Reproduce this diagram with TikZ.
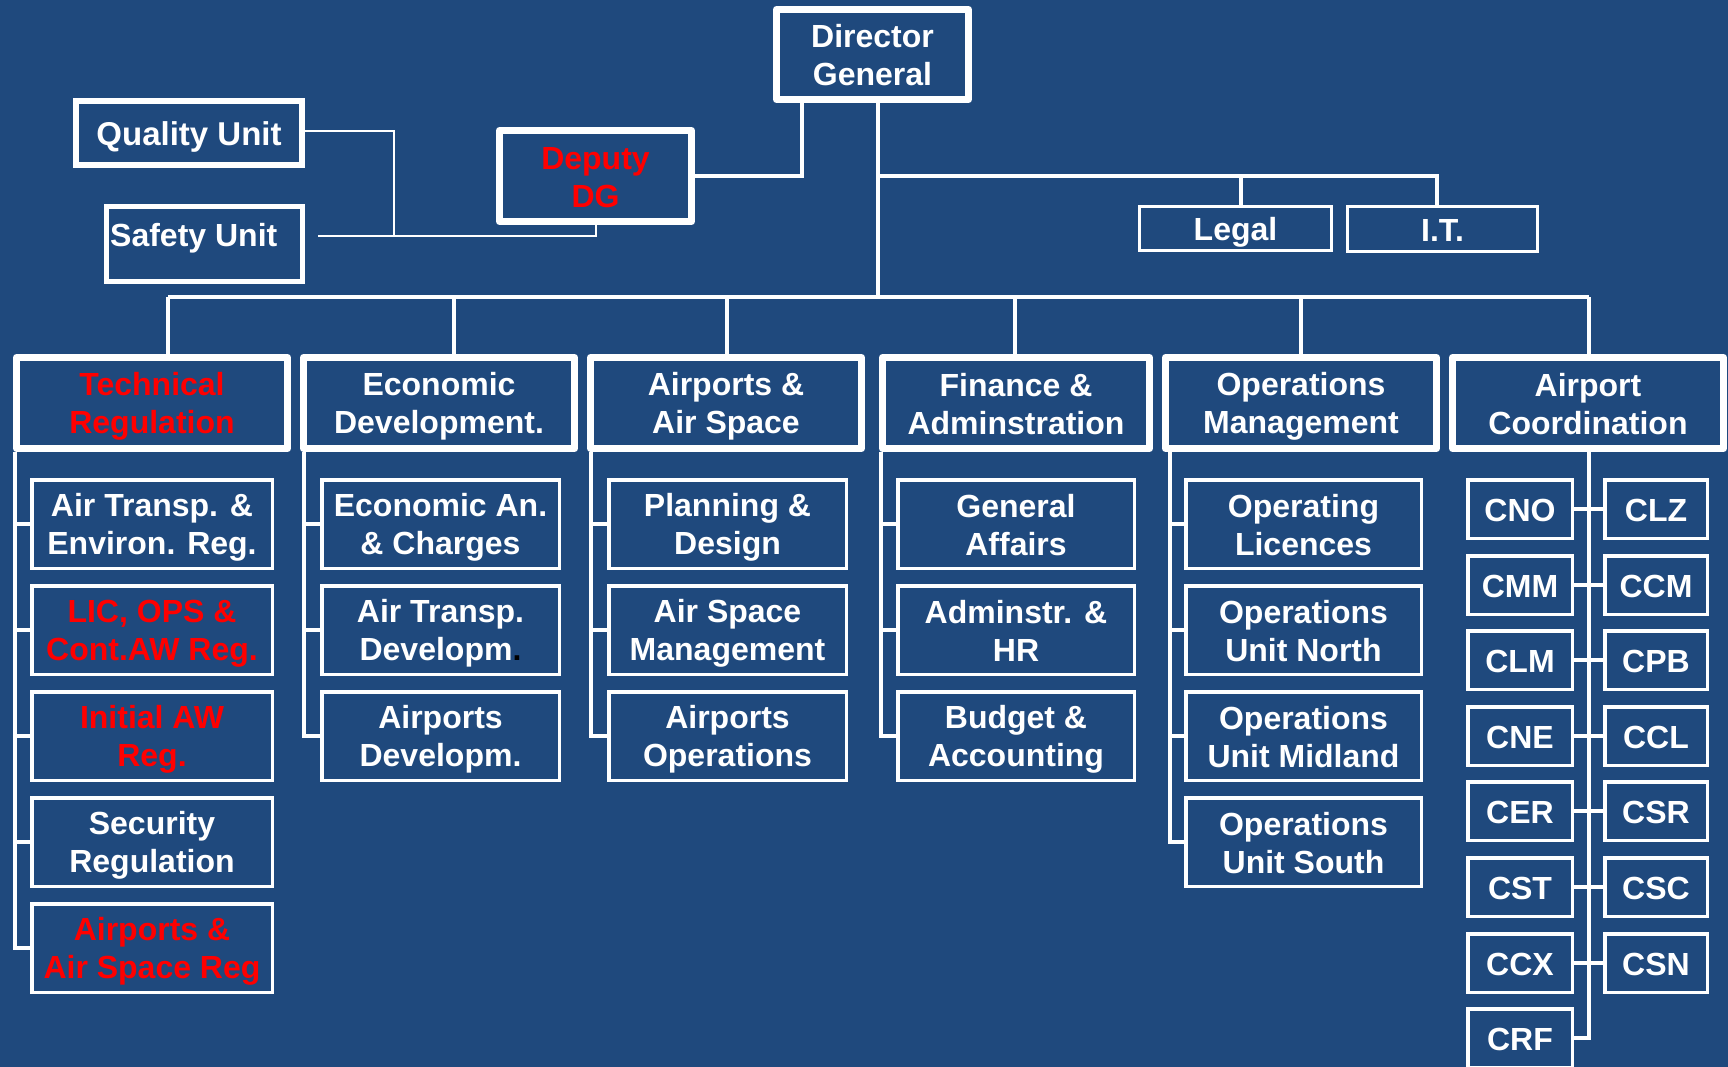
\documentclass[tikz,border=0pt]{standalone}
\usepackage{fontspec}
\setmainfont{Liberation Sans}
\definecolor{bg}{HTML}{1F497D}
\definecolor{rd}{HTML}{FF0000}
\newcommand{\ms}{\rule[-0.18em]{0pt}{1.12em}}
\newcommand{\tw}[2]{\ms #1\\\ms #2}
\tikzset{
  bx/.style={draw=white, inner sep=0pt, align=center, text=white,
    font=\fontsize{32}{38}\selectfont\bfseries},
  thk/.style={bx, line width=7pt, line join=round},
  thn/.style={bx, line width=3.5pt},
  sz/.style 2 args={minimum width=#1pt, minimum height=#2pt},
  conn/.style={draw=white, line width=3.5pt},
  fine/.style={draw=white, line width=2pt},
  lbl/.style={inner sep=0pt, text=white, font=\fontsize{32}{38}\selectfont\bfseries}
}
\begin{document}
\begin{tikzpicture}[x=1pt, y=-1pt]
\fill[bg] (0,0) rectangle (1728,1067);
\useasboundingbox (0,0) rectangle (1728,1067);

% top level
\node[thk, sz={192}{90}] (dg) at (872.5,54.5) {\tw{Director}{General}};
\node[thk, sz={192}{91}, text=rd] (dep) at (595.5,176) {\tw{Deputy}{DG}};
\node[bx, line width=6pt, sz={226}{64}, font=\fontsize{33}{38}\selectfont\bfseries] (qu) at (189,133) {\ms Quality Unit};
\node[bx, line width=5pt, sz={196}{75}] (sa) at (204.5,244) {};
\node[lbl, anchor=base west] (satxt) at (110,247) {Safety Unit};
\node[bx, line width=3pt, sz={192}{44}] (lg) at (1235.5,228.5) {\ms Legal};
\node[bx, line width=3pt, sz={190}{45}] (it) at (1442.5,229) {\ms I.T.};

% departments
\node[thk, sz={271}{91}, text=rd] (tr) at (152,403) {\tw{Technical}{Regulation}};
\node[thk, sz={271}{91}] (ed) at (439,403) {\tw{Economic}{Development.}};
\node[thk, sz={271}{91}] (as) at (726,403) {\tw{Airports \&}{Air Space}};
\node[thk, sz={267}{91}] (fa) at (1016,403) {\tw{Finance \&}{Adminstration}};
\node[thk, sz={271}{91}] (om) at (1301,403) {\tw{Operations}{Management}};
\node[thk, sz={271}{91}] (ac) at (1588,403) {\tw{Airport}{Coordination}};

% Technical Regulation column
\node[thn, sz={240.5}{88.5}] (t1) at (152,524) {\tw{Air Transp. \&}{Environ. Reg.}};
\node[thn, sz={240.5}{88.5}, text=rd] (t2) at (152,630) {\tw{LIC, OPS \&}{Cont.AW Reg.}};
\node[thn, sz={240.5}{88.5}, text=rd] (t3) at (152,736) {\tw{Initial AW}{Reg.}};
\node[thn, sz={240.5}{88.5}] (t4) at (152,842) {\tw{Security}{Regulation}};
\node[thn, sz={240.5}{88.5}, text=rd] (t5) at (152,948) {\tw{Airports \&}{Air Space Reg}};

% Economic Development column
\node[thn, sz={237.5}{88.5}] (e1) at (440.5,524) {\tw{Economic An.}{\& Charges}};
\node[thn, sz={237.5}{88.5}] (e2) at (440.5,630) {\tw{Air Transp.}{Developm\textcolor{black}{.}}};
\node[thn, sz={237.5}{88.5}] (e3) at (440.5,736) {\tw{Airports}{Developm.}};

% Airports & Air Space column
\node[thn, sz={237.5}{88.5}] (a1) at (727.5,524) {\tw{Planning \&}{Design}};
\node[thn, sz={237.5}{88.5}] (a2) at (727.5,630) {\tw{Air Space}{Management}};
\node[thn, sz={237.5}{88.5}] (a3) at (727.5,736) {\tw{Airports}{Operations}};

% Finance column
\node[thn, sz={236.5}{88.5}] (f1) at (1016,524) {\tw{General}{Affairs}};
\node[thn, sz={236.5}{88.5}] (f2) at (1016,630) {\tw{Adminstr. \&}{HR}};
\node[thn, sz={236.5}{88.5}] (f3) at (1016,736) {\tw{Budget \&}{Accounting}};

% Operations column
\node[thn, sz={235.5}{88.5}] (o1) at (1303.5,524) {\tw{Operating}{Licences}};
\node[thn, sz={235.5}{88.5}] (o2) at (1303.5,630) {\tw{Operations}{Unit North}};
\node[thn, sz={235.5}{88.5}] (o3) at (1303.5,736) {\tw{Operations}{Unit Midland}};
\node[thn, sz={235.5}{88.5}] (o4) at (1303.5,842) {\tw{Operations}{Unit South}};

% Airport coordination small boxes
\foreach \n/\t/\y in {c1/CNO/509, c2/CMM/585, c3/CLM/660, c4/CNE/736,
                      c5/CER/811, c6/CST/887, c7/CCX/963, c8/CRF/1038}
  \node[thn, sz={104.5}{58.5}] (\n) at (1520,\y) {\ms\t};
\foreach \n/\t/\y in {k1/CLZ/509, k2/CCM/585, k3/CPB/660, k4/CCL/736,
                      k5/CSR/811, k6/CSC/887, k7/CSN/963}
  \node[thn, sz={102.5}{58.5}] (\n) at (1656,\y) {\ms\t};

% ---- connectors ----
\coordinate (trunk) at (878,297);
\coordinate (busL) at (168,297);
\coordinate (busR) at (1589,297);
\draw[conn] (trunk |- dg.south) -- (trunk);
\draw[conn] (busL) -- (busR);
\coordinate (d1) at (168,297);
\coordinate (d2) at (454,297);
\coordinate (d3) at (727,297);
\coordinate (d4) at (1015,297);
\coordinate (d5) at (1301,297);
\coordinate (d6) at (1589,297);
\draw[conn] (d1) -- (d1 |- tr.north);
\draw[conn] (d2) -- (d2 |- ed.north);
\draw[conn] (d3) -- (d3 |- as.north);
\draw[conn] (d4) -- (d4 |- fa.north);
\draw[conn] (d5) -- (d5 |- om.north);
\draw[conn] (d6) -- (d6 |- ac.north);

% legal / IT
\coordinate (lb) at (878,176);
\coordinate (lbR) at (1437,176);
\coordinate (lgc) at (1241,176);
\draw[conn] (lb) -- (lbR) -- (lbR |- it.north);
\draw[conn] (lgc) -- (lgc |- lg.north);

% deputy
\coordinate (dd) at (802,176);
\draw[conn] (dd |- dg.south) -- (dd) -- (dep.east);

% quality / safety
\coordinate (q1) at (394,131);
\coordinate (q2) at (394,236);
\coordinate (s1) at (318,236);
\draw[fine] (qu.east |- q1) -- (q1) -- (q2);
\draw[fine] (s1) -- (dep.south |- s1) -- (dep.south);

% spines
\coordinate (sp1) at (15,0);
\coordinate (sp2) at (304,0);
\coordinate (sp3) at (591,0);
\coordinate (sp4) at (881,0);
\coordinate (sp5) at (1170,0);
\coordinate (sp6) at (1589,0);
\draw[conn] (sp1 |- tr.south) -- (sp1 |- t5.west) -- (t5.west);
\foreach \b in {t1,t2,t3,t4} \draw[conn] (sp1 |- \b.west) -- (\b.west);
\draw[conn] (sp2 |- ed.south) -- (sp2 |- e3.west) -- (e3.west);
\foreach \b in {e1,e2} \draw[conn] (sp2 |- \b.west) -- (\b.west);
\draw[conn] (sp3 |- as.south) -- (sp3 |- a3.west) -- (a3.west);
\foreach \b in {a1,a2} \draw[conn] (sp3 |- \b.west) -- (\b.west);
\draw[conn] (sp4 |- fa.south) -- (sp4 |- f3.west) -- (f3.west);
\foreach \b in {f1,f2} \draw[conn] (sp4 |- \b.west) -- (\b.west);
\draw[conn] (sp5 |- om.south) -- (sp5 |- o4.west) -- (o4.west);
\foreach \b in {o1,o2,o3} \draw[conn] (sp5 |- \b.west) -- (\b.west);
\draw[conn] (sp6 |- ac.south) -- (sp6 |- c8.east) -- (c8.east);
\foreach \i in {1,...,7} \draw[conn] (c\i.east) -- (k\i.west);
\end{tikzpicture}
\end{document}
